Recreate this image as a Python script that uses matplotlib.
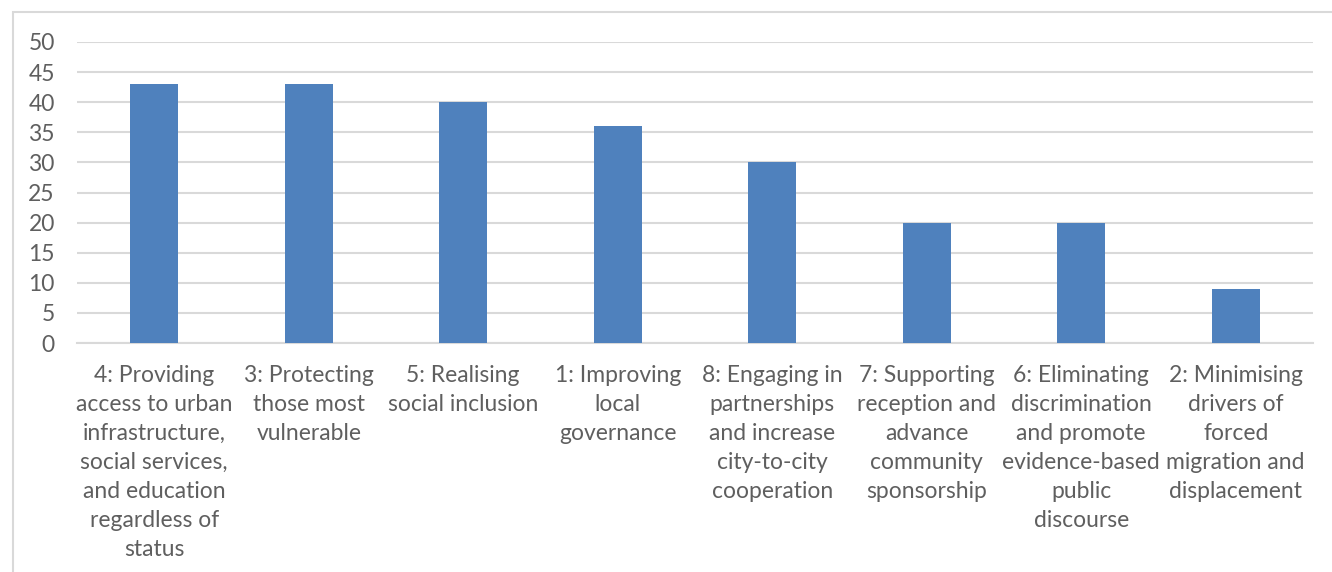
import matplotlib
matplotlib.use("Agg")
import matplotlib.pyplot as plt
from matplotlib.patches import Rectangle

# Number of respondents per Mayors Migration Council action area
labels = [
    "4: Providing\naccess to urban\ninfrastructure,\nsocial services,\nand education\nregardless of\nstatus",
    "3: Protecting\nthose most\nvulnerable",
    "5: Realising\nsocial inclusion",
    "1: Improving\nlocal\ngovernance",
    "8: Engaging in\npartnerships\nand increase\ncity-to-city\ncooperation",
    "7: Supporting\nreception and\nadvance\ncommunity\nsponsorship",
    "6: Eliminating\ndiscrimination\nand promote\nevidence-based\npublic\ndiscourse",
    "2: Minimising\ndrivers of\nforced\nmigration and\ndisplacement",
]
values = [43, 43, 40, 36, 30, 20, 20, 9]
yticks = list(range(0, 55, 5))

text_color = "#5f5f5f"
grid_color = "#d9d9d9"
bar_color = "#4f81bd"

plt.rcParams["font.family"] = ["Lato", "DejaVu Sans"]

W, H = 1332, 572
fig = plt.figure(figsize=(W / 100, H / 100), dpi=100)

# chart frame (only left and top edges fall inside the image)
fig.patches.append(Rectangle((13 / W, -0.1), 1.2, (H - 12) / H + 0.1,
                             transform=fig.transFigure, fill=False,
                             edgecolor=grid_color, linewidth=1.5))

ax = fig.add_axes([77 / W, (H - 343) / H, (1313 - 77) / W, (343 - 42) / H])
x = list(range(len(values)))
ax.bar(x, values, width=0.31, color=bar_color, zorder=3)

ax.set_xlim(-0.5, len(values) - 0.5)
ax.set_ylim(0, 50)
ax.set_yticks(yticks)
ax.set_xticks(x)
ax.set_xticklabels(labels, linespacing=1.47)
ax.yaxis.grid(True, color=grid_color, linewidth=1.5, zorder=0)
ax.tick_params(axis="both", length=0, colors=text_color, labelsize=16.5)
ax.tick_params(axis="y", pad=16)
ax.tick_params(axis="x", pad=16)
for side in ["top", "right", "left"]:
    ax.spines[side].set_visible(False)
ax.spines["bottom"].set_color(grid_color)
ax.spines["bottom"].set_linewidth(1.5)
ax.set_axisbelow(True)

fig.savefig("out.png", dpi=100)
